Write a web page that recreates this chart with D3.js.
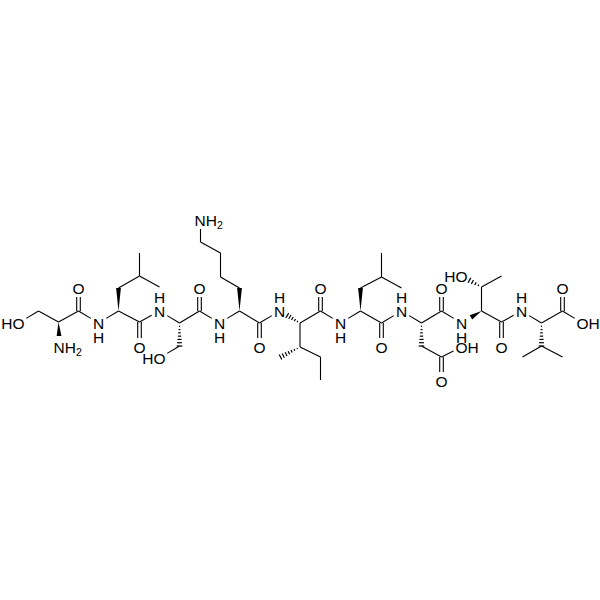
<!DOCTYPE html>
<html>
<head>
<meta charset="utf-8">
<script src="https://d3js.org/d3.v7.min.js"></script>
<style>
  html, body { margin: 0; padding: 0; background: #fff; }
  svg { display: block; }
</style>
</head>
<body>
<div id="chart"></div>
<script>
// atoms, one index per atom
var atomX = [18,38,58,78,78,59,98,118,118,139,139,159,139,139,159,179,179,159,199,199,
  219,239,239,220,220,200,200,259,259,279,299.5,299.5,280,320,320,320,320,340,360,360,
  381,381,401,381,381,401,421,421,441,461,441,441,441,461,481,481,501,461,501,501,
  521,541,541,522,562,562,562,582];
var atomY = [323,311,322,311,288,347,323,311,288,276,253,287,322,347,311,323,346,358,311,288,
  323,311,288,277,253,242,220,323,347,311,323,347,357,357,380,311,288,323,311,288,
  277,253,288,323,347,311,323,346,357,347,381,311,288,323,311,287,276,276,322,347,
  311,323,346,357,357,311,288,323];
var atomLabel = ['O','','','','O','N','N','','','','','','','O','N','','','O','','O',
  'N','','','','','','N','','O','N','','','','','','','O','N','','',
  '','','','','O','N','','','','O','O','','O','N','','','','O','','O',
  'N','','','','','','O','O'];
// extra text attached to a label: HO, OH, NH2
var labelPrefix = {0:'H',17:'H',57:'H'};
var labelSuffix = {49:'H',67:'H',5:'H',26:'H'};
var labelSub = {5:'2',26:'2'};
// H drawn under or over an amide N
var hBelow = [6,20,37,53];
var hAbove = [14,29,45,60];

var singleFrom = [0,1,2,3,6,7,8,9,9,12,14,15,16,18,
  20,21,22,23,24,25,27,30,31,33,30,35,37,38,39,40,40,43,45,46,47,48,51,54,54,55,58,60,61,62,62,65];
var singleTo = [1,2,3,6,7,12,9,10,11,14,15,18,17,20,
  21,27,23,24,25,26,29,31,33,34,35,37,38,43,40,41,42,45,46,51,48,49,53,58,55,56,60,61,65,63,64,67];
var doubleFrom = [3,12,18,27,35,43,48,51,58,65];
var doubleTo = [4,13,19,28,36,44,50,52,59,66];
// narrow end first
var wedgeFrom = [2,7,21,38,54];
var wedgeTo = [5,8,22,39,53];
var hashFrom = [15,30,31,46,55,61];
var hashTo = [16,29,32,47,57,62];

var width = 600, height = 600;
// half pixel shift keeps upright bonds on one pixel column
var x = d3.scaleLinear().domain([0, 600]).range([0.5, width + 0.5]);
var y = d3.scaleLinear().domain([0, 600]).range([0, height]);

var svg = d3.select('#chart').append('svg')
  .attr('width', width)
  .attr('height', height);

var ink = '#000';

// end points of a bond, pulled back from the atom when it carries a label
function trim(from, to, gap) {
  var x1 = x(atomX[from]), y1 = y(atomY[from]);
  var x2 = x(atomX[to]), y2 = y(atomY[to]);
  var len = Math.sqrt((x2 - x1) * (x2 - x1) + (y2 - y1) * (y2 - y1));
  var ux = (x2 - x1) / len, uy = (y2 - y1) / len;
  var a = atomLabel[from] ? gap : 0;
  var b = atomLabel[to] ? gap : 0;
  return {x1: x1 + ux * a, y1: y1 + uy * a, x2: x2 - ux * b, y2: y2 - uy * b, ux: ux, uy: uy, len: len - a - b};
}

function drawLines(data, strokeWidth) {
  svg.append('g').selectAll('line')
    .data(data)
    .enter().append('line')
    .attr('x1', function(d) { return d.x1; })
    .attr('y1', function(d) { return d.y1; })
    .attr('x2', function(d) { return d.x2; })
    .attr('y2', function(d) { return d.y2; })
    .attr('stroke', ink)
    .attr('stroke-width', strokeWidth);
}

drawLines(singleFrom.map(function(d, i) { return trim(d, singleTo[i], 9); }), 1.1);

var doubles = [];
doubleFrom.forEach(function(d, i) {
  var b = trim(d, doubleTo[i], 9);
  [-1.8, 1.8].forEach(function(off) {
    doubles.push({x1: b.x1 - b.uy * off, y1: b.y1 + b.ux * off, x2: b.x2 - b.uy * off, y2: b.y2 + b.ux * off});
  });
});
drawLines(doubles, 1.1);

var wedges = wedgeFrom.map(function(d, i) { return trim(d, wedgeTo[i], 11); });
svg.append('g').selectAll('polygon')
  .data(wedges)
  .enter().append('polygon')
  .attr('fill', ink)
  .attr('points', function(d) {
    var w = 2.4;
    return [[d.x1, d.y1],
      [d.x2 - d.uy * w, d.y2 + d.ux * w],
      [d.x2 + d.uy * w, d.y2 - d.ux * w]].join(' ');
  });

var hashes = [];
hashFrom.forEach(function(d, i) {
  var b = trim(d, hashTo[i], 9);
  var n = Math.round(b.len / 3.2);
  d3.range(1, n + 1).forEach(function(k) {
    var t = k / n;
    var w = 2.6 * t + 0.2;
    var px = b.x1 + b.ux * b.len * t, py = b.y1 + b.uy * b.len * t;
    hashes.push({x1: px - b.uy * w, y1: py + b.ux * w, x2: px + b.uy * w, y2: py - b.ux * w});
  });
});
drawLines(hashes, 1.2);

var labelled = d3.range(atomX.length).filter(function(i) { return atomLabel[i] !== ''; });
var labels = svg.append('g')
  .attr('font-family', '"Liberation Sans", Arial, sans-serif')
  .attr('font-size', 15.5)
  .attr('fill', ink)
  .selectAll('text')
  .data(labelled)
  .enter().append('text')
  .attr('y', function(i) { return y(atomY[i]) + 5.5; })
  .attr('x', function(i) {
    // centre the heavy atom letter on its position
    if (labelPrefix[i]) { return x(atomX[i]) + 6; }
    if (labelSuffix[i]) { return x(atomX[i]) - 6; }
    return x(atomX[i]);
  })
  .attr('text-anchor', function(i) {
    if (labelPrefix[i]) { return 'end'; }
    if (labelSuffix[i]) { return 'start'; }
    return 'middle';
  });

labels.append('tspan').text(function(i) {
  return (labelPrefix[i] || '') + atomLabel[i] + (labelSuffix[i] || '');
});
labels.filter(function(i) { return labelSub[i]; })
  .append('tspan')
  .attr('dy', 3.5)
  .attr('font-size', 10.5)
  .text(function(i) { return labelSub[i]; });

// the amide H belongs to the N label
labels.filter(function(i) { return hBelow.indexOf(i) >= 0 || hAbove.indexOf(i) >= 0; })
  .append('tspan')
  .attr('x', function(i) { return x(atomX[i]); })
  .attr('dy', function(i) { return hBelow.indexOf(i) >= 0 ? 14 : -14; })
  .text('H');
</script>
</body>
</html>
